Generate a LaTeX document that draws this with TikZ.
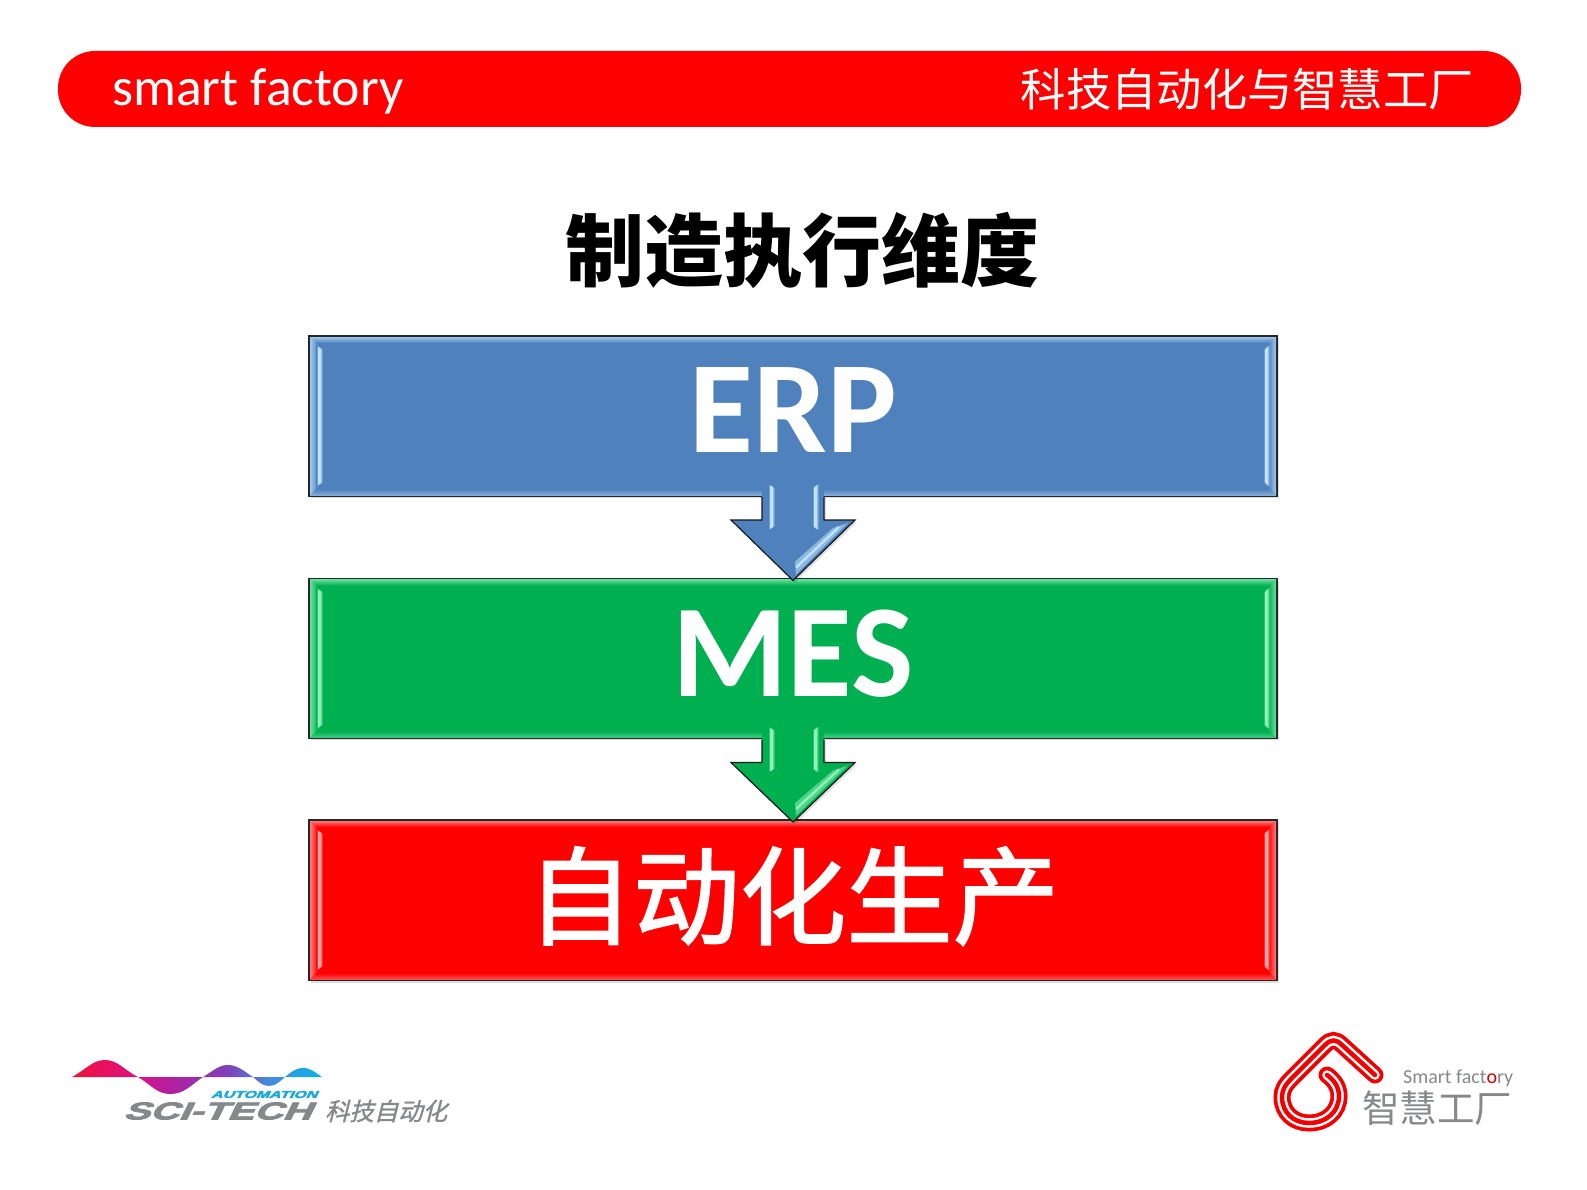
\documentclass[tikz,border=0pt]{standalone}
\usepackage{fontspec}
\usetikzlibrary{calc}
\setmainfont{Carlito}
\newfontfamily\cjk{Noto Sans CJK SC}
\newfontfamily\cjkmed[FakeBold=1.6]{Noto Sans CJK SC}
\newfontfamily\cjkslant[FakeSlant=0.25,FakeBold=1.2]{Noto Sans CJK SC}
\newfontfamily\logofont[FakeSlant=0.3,FakeBold=3]{Liberation Sans}
\newcommand{\fsz}[1]{\fontsize{#1}{#1}\selectfont}
\definecolor{bluebox}{HTML}{4F81BD}
\definecolor{greenbox}{HTML}{00B050}
\definecolor{redbox}{HTML}{FF0000}
\definecolor{logogrey}{HTML}{86888A}
\definecolor{logocyan}{HTML}{1AA9DC}
\definecolor{paleblue}{HTML}{BFE3FF}
\definecolor{palegreen}{HTML}{8FF0B8}
\definecolor{palered}{HTML}{FFA8A8}
\definecolor{waveA}{HTML}{EE1238}
\definecolor{waveB}{HTML}{E01080}
\definecolor{waveC}{HTML}{B020A0}
\definecolor{waveD}{HTML}{8040B8}
\definecolor{waveE}{HTML}{4888DC}
\definecolor{waveF}{HTML}{08B4EA}
\pgfdeclarehorizontalshading{waveshade}{100bp}{
  color(0bp)=(waveA);
  color(25bp)=(waveA);
  color(37bp)=(waveB);
  color(45bp)=(waveC);
  color(56bp)=(waveD);
  color(64bp)=(waveE);
  color(75bp)=(waveF);
  color(100bp)=(waveF)}
\tikzset{
  layerbox/.style={draw=black!85,line width=1.4pt,minimum width=968pt,minimum height=160pt,text=white,inner sep=0pt,outer sep=0pt},
  boxshadow/.style={fill=black,opacity=.13},
}
% name, base colour, pale highlight colour
\newcommand{\bevelbox}[3]{%
  \shade[top color=#3!70!#2,bottom color=#2] ($(#1.north west)+(1,1)$) rectangle ($(#1.north east)+(-1,7)$);
  \shade[top color=#2,bottom color=#3!45!#2] ($(#1.south west)+(1,-7)$) rectangle ($(#1.south east)+(-1,-1)$);
  \shade[left color=#3!75!#2,right color=#2] ($(#1.north west)+(1,1)$) -- ($(#1.north west)+(9,9)$) -- ($(#1.south west)+(9,-9)$) -- ($(#1.south west)+(1,-1)$) -- cycle;
  \shade[right color=#3!75!#2,left color=#2] ($(#1.north east)+(-1,1)$) -- ($(#1.north east)+(-9,9)$) -- ($(#1.south east)+(-9,-9)$) -- ($(#1.south east)+(-1,-1)$) -- cycle;
  \shade[left color=#2,right color=#2,middle color=#3] ($(#1.north west)+(7,9)$) -- ($(#1.north west)+(14,14)$) -- ($(#1.south west)+(14,-14)$) -- ($(#1.south west)+(7,-9)$) -- cycle;
  \shade[left color=#2,right color=#2,middle color=#3] ($(#1.north east)+(-7,9)$) -- ($(#1.north east)+(-14,14)$) -- ($(#1.south east)+(-14,-14)$) -- ($(#1.south east)+(-7,-9)$) -- cycle;
  \fill[#3] ($(#1.north west)+(9,11)$) -- ($(#1.north west)+(12,14)$) -- ($(#1.south west)+(12,-14)$) -- ($(#1.south west)+(9,-11)$) -- cycle;
  \fill[#3] ($(#1.north east)+(-9,11)$) -- ($(#1.north east)+(-12,14)$) -- ($(#1.south east)+(-12,-14)$) -- ($(#1.south east)+(-9,-11)$) -- cycle;
}
% from-node, to-node, fill, pale
\newcommand{\blockarrow}[4]{%
  \fill[black,opacity=.12] ($(#1.south)+(-29,2)$) -- ($(#1.south)+(-29,26)$) -- ($(#1.south)+(-60,26)$) -- ($(#2.north)+(2,4)$) -- ($(#1.south)+(64,26)$) -- ($(#1.south)+(33,26)$) -- ($(#1.south)+(33,2)$) -- cycle;
  \fill[#3] ($(#1.south)+(-31,-12)$) -- ($(#1.south)+(-31,24)$) -- ($(#1.south)+(-62,24)$) -- ($(#2.north)+(0,2)$) -- ($(#1.south)+(62,24)$) -- ($(#1.south)+(31,24)$) -- ($(#1.south)+(31,-12)$) -- cycle;
  \draw[black!90,line width=1.2pt,line join=miter] ($(#1.south)+(-31,1)$) -- ($(#1.south)+(-31,24)$) -- ($(#1.south)+(-62,24)$) -- ($(#2.north)+(0,2)$) -- ($(#1.south)+(62,24)$) -- ($(#1.south)+(31,24)$) -- ($(#1.south)+(31,1)$);
  \shade[left color=#3,right color=#3,middle color=#4] ($(#1.south)+(-25,-12)$) -- ($(#1.south)+(-18,-8)$) -- ($(#1.south)+(-18,30)$) -- ($(#1.south)+(-25,34)$) -- cycle;
  \shade[left color=#3,right color=#3,middle color=#4] ($(#1.south)+(26,-12)$) -- ($(#1.south)+(19,-8)$) -- ($(#1.south)+(19,30)$) -- ($(#1.south)+(26,34)$) -- cycle;
  \fill[#4] ($(#1.south)+(-23,-10)$) -- ($(#1.south)+(-20,-8)$) -- ($(#1.south)+(-20,31)$) -- ($(#1.south)+(-23,33)$) -- cycle;
  \fill[#4] ($(#1.south)+(24,-10)$) -- ($(#1.south)+(21,-8)$) -- ($(#1.south)+(21,31)$) -- ($(#1.south)+(24,33)$) -- cycle;
  \fill[#4!55!#3] ($(#2.north)+(2,-17)$) -- ($(#1.south)+(40,32)$) -- ($(#1.south)+(55,27)$) -- ($(#2.north)+(3,-4)$) -- cycle;
  \draw[#4,line width=2.4pt] ($(#2.north)+(3,-11)$) -- ($(#1.south)+(46,31)$);
}
\begin{document}
\begin{tikzpicture}[x=1pt,y=-1pt]
\useasboundingbox (0,0) rectangle (1587,1190);
\fill[white] (0,0) rectangle (1587,1190);

% banner
\node[fill=redbox,rounded corners=37pt,minimum width=1463pt,minimum height=76pt,inner sep=0pt] (banner) at (789.5,89) {};
\node[anchor=base west,text=white,inner sep=0pt] (bannerl) at (112,106) {\fsz{53.7}smart factory};
\node[anchor=base east,text=white,inner sep=0pt] (bannerr) at (1474,107) {\cjk\fsz{45.3}科技自动化与智慧工厂};

% title
\node[inner sep=0pt,text=black] (title) at (802,250) {\cjk\bfseries\fsz{79}制造执行维度};

% shadows
\fill[boxshadow] (311,338) rectangle (1279,498);
\fill[boxshadow] (311,581) rectangle (1279,740);
\fill[boxshadow] (311,822) rectangle (1279,983);

% boxes
\node[layerbox,fill=bluebox] (erp) at (793,416) {\raisebox{11pt}{\bfseries\fsz{131}ERP}};
\node[layerbox,fill=greenbox] (mes) at (793,658.5) {\raisebox{11pt}{\bfseries\fsz{132}MES}};
\node[layerbox,fill=redbox] (auto) at (793,900) {\raisebox{17pt}{\cjkmed\fsz{106.5}自动化生产}};
\bevelbox{erp}{bluebox}{paleblue}
\bevelbox{mes}{greenbox}{palegreen}
\bevelbox{auto}{redbox}{palered}

% arrows
\blockarrow{erp}{mes}{bluebox}{paleblue}
\blockarrow{mes}{auto}{greenbox}{palegreen}

% left logo
\shade[shading=waveshade] (72,1077) .. controls (88,1068) and (93,1060) .. (105,1060) .. controls (118,1060) and (124,1070) .. (138,1077)
  .. controls (150,1084) and (157,1094) .. (170,1094) .. controls (185,1094) and (192,1084) .. (203,1077)
  .. controls (212,1072) and (218,1065) .. (228,1065) .. controls (238,1065) and (245,1072) .. (253,1077)
  .. controls (258,1081) and (262,1086) .. (269,1086) .. controls (276,1086) and (280,1081) .. (285,1077)
  .. controls (290,1073) and (295,1068) .. (303,1068) .. controls (311,1068) and (316,1073) .. (322,1077) -- cycle;
\node[inner sep=0pt,text=logocyan] (automation) at (264,1094.5) {\resizebox{106pt}{7pt}{\logofont\bfseries AUTOMATION}};
\node[inner sep=0pt,text=logogrey] (scitech) at (217,1111) {\resizebox{188pt}{17pt}{\logofont\bfseries SCI-TECH}};
\node[inner sep=0pt,text=logogrey] (scicn) at (386,1111) {\cjkslant\fsz{24.4}科技自动化};

% right logo
\newcommand{\spiralpath}{(1375,1075) -- (1342,1045) .. controls (1336,1039) and (1331,1039) .. (1325,1045) -- (1292,1078) .. controls (1285,1085) and (1282,1090) .. (1282,1097) .. controls (1282,1113) and (1294,1123) .. (1309,1123) .. controls (1326,1123) and (1339,1112) .. (1339,1096) .. controls (1339,1087) and (1334,1080) .. (1327,1075)}
\draw[red!95!black,line width=17pt,line cap=round] \spiralpath;
\draw[white,line width=9.5pt,line cap=round] \spiralpath;
\draw[red!95!black,line width=4.5pt,line cap=round] \spiralpath;
\node[anchor=base west,inner sep=0pt,text=logogrey] (smartf) at (1403,1083) {\fsz{20}Smart fact\textcolor{red!85!black}{o}ry};
\node[anchor=base west,inner sep=0pt,text=logogrey] (smartcn) at (1362,1122) {\cjk\fsz{37.5}智慧工厂};
\end{tikzpicture}
\end{document}
